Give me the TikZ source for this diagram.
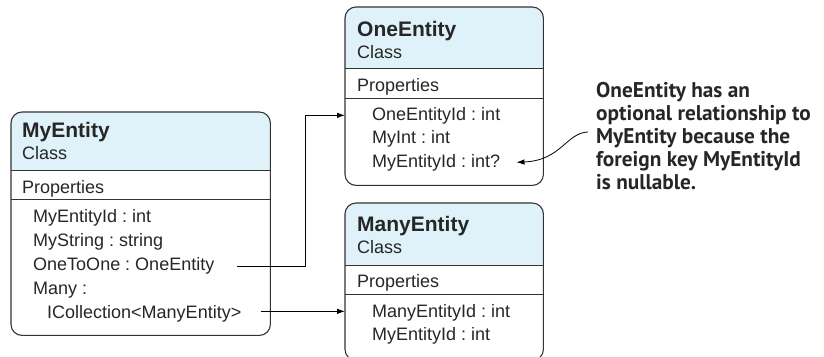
\documentclass[tikz,border=0pt]{standalone}
\usepackage{fontspec}
\setmainfont{Liberation Sans}
\newfontfamily\notefont{PT Sans}
\usetikzlibrary{arrows.meta,calc}
\definecolor{hdr}{HTML}{DFF2FA}
\definecolor{edgec}{HTML}{333333}
\frenchspacing
\begin{document}
\begin{tikzpicture}[x=1pt,y=-1pt,
  boxshape/.style={rectangle,minimum width=198pt,inner sep=0pt,anchor=north west},
  frame/.style={draw=edgec,line width=1.1pt,rounded corners=11pt},
  sepline/.style={draw=edgec,line width=1pt},
  ttl/.style={font=\fontsize{21}{24}\selectfont\bfseries,inner sep=0pt,anchor=base west,text=black!85},
  txt/.style={font=\fontsize{18}{22}\selectfont,inner sep=0pt,anchor=base west,text=black!85},
  note/.style={font=\notefont\fontsize{21.3}{23}\selectfont\bfseries,inner sep=0pt,anchor=north west,align=left,text=black!85},
  arr/.style={draw=black,line width=0.9pt,-{Latex[length=8pt,width=5.5pt]}}]
\path[use as bounding box] (0,0) rectangle (824,356);
\clip (0,0) rectangle (824,356);

% ---------- MyEntity ----------
\node[boxshape,minimum width=259pt,minimum height=223pt] (my) at (11,112) {};
\begin{scope}
  \clip[rounded corners=11pt] (my.north west) rectangle (my.south east);
  \fill[hdr] (my.north west) rectangle ($(my.north east)+(0,58)$);
\end{scope}
\draw[frame] (my.north west) rectangle (my.south east);
\draw[sepline] ($(my.north west)+(0,58)$) -- ($(my.north east)+(0,58)$);
\draw[sepline] ($(my.north west)+(0,87)$) -- ($(my.north east)+(0,87)$);
\node[ttl] (myt) at (22,137) {MyEntity};
\node[txt] (myc) at (22,159) {Class};
\node[txt] (myp) at (22,193) {Properties};
\node[txt] (myid) at (33,222) {MyEntityId : int};
\node[txt] (mys) at (33,246) {MyString : string};
\node[txt] (oto) at (33,270) {OneToOne : OneEntity};
\node[txt] (many) at (33,294) {Many :};
\node[txt] (icol) at (47,318) {ICollection<ManyEntity>};

% ---------- OneEntity ----------
\node[boxshape,minimum height=178pt] (one) at (345,7) {};
\begin{scope}
  \clip[rounded corners=11pt] (one.north west) rectangle (one.south east);
  \fill[hdr] (one.north west) rectangle ($(one.north east)+(0,61)$);
\end{scope}
\draw[frame] (one.north west) rectangle (one.south east);
\draw[sepline] ($(one.north west)+(0,61)$) -- ($(one.north east)+(0,61)$);
\draw[sepline] ($(one.north west)+(0,91)$) -- ($(one.north east)+(0,91)$);
\node[ttl] (onet) at (357,36) {OneEntity};
\node[txt] (onec) at (357,58) {Class};
\node[txt] (onep) at (357,91) {Properties};
\node[txt] (oneid) at (372,120) {OneEntityId : int};
\node[txt] (onei) at (372,143) {MyInt : int};
\node[txt] (onefk) at (372,167) {MyEntityId : int?};

% ---------- ManyEntity ----------
\node[boxshape,minimum height=157pt] (me) at (345,203) {};
\begin{scope}
  \clip[rounded corners=11pt] (me.north west) rectangle (me.south east);
  \fill[hdr] (me.north west) rectangle ($(me.north east)+(0,62)$);
\end{scope}
\draw[frame] (me.north west) rectangle (me.south east);
\draw[sepline] ($(me.north west)+(0,62)$) -- ($(me.north east)+(0,62)$);
\draw[sepline] ($(me.north west)+(0,91)$) -- ($(me.north east)+(0,91)$);
\node[ttl] (met) at (357,231) {ManyEntity};
\node[txt] (mec) at (357,253) {Class};
\node[txt] (mep) at (357,287) {Properties};
\node[txt] (meid) at (372,317) {ManyEntityId : int};
\node[txt] (mefk) at (372,340) {MyEntityId : int};

% ---------- connectors ----------
\coordinate (bendA) at (305,0);
\draw[arr] ([xshift=22pt,yshift=-1pt]oto.east) -| (bendA |- oneid.west) -- (one.west |- oneid.west);
\coordinate (mstart) at ($(icol.east)+(19,-2)$);
\draw[arr] (mstart) -- (me.west |- mstart);

% ---------- note ----------
\node[note] (nt) at (596,82) {OneEntity has an\\optional relationship to\\MyEntity because the\\foreign key MyEntityId\\is nullable.};
\coordinate (nstart) at ($(nt.west)+(-8,-4)$);
\coordinate (ntip) at ($(onefk.east)+(16,0)$);
\draw[arr,line width=0.8pt] (nstart) .. controls ($(nstart)+(-22,1)$) and ($(ntip)+(45,-2)$) .. (ntip);
\end{tikzpicture}
\end{document}
